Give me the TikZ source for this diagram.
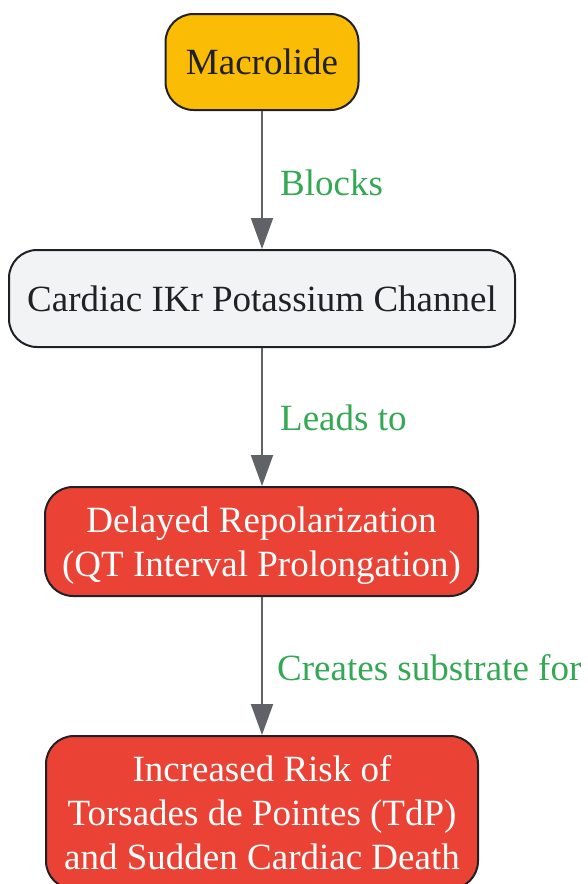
\documentclass[tikz,border=0pt]{standalone}
\usepackage{fontspec}
\setmainfont{Liberation Serif}
\usetikzlibrary{arrows.meta}
\definecolor{gold}{HTML}{FBBC05}
\definecolor{grayfill}{HTML}{F1F3F4}
\definecolor{redfill}{HTML}{EA4335}
\definecolor{edgegray}{HTML}{5F6368}
\definecolor{lblgreen}{HTML}{34A853}
\definecolor{inkdark}{HTML}{202124}
\tikzset{
  box/.style={draw=inkdark, line width=2pt, rounded corners=28pt, align=center,
    font=\fontsize{37}{44}\selectfont, inner sep=0pt},
  goldbox/.style={box, fill=gold, text=inkdark},
  graybox/.style={box, fill=grayfill, text=inkdark},
  redbox/.style={box, fill=redfill, text=white},
  conn/.style={draw=edgegray, line width=2pt, -{Triangle[length=31pt,width=22pt]}},
  lbl/.style={text=lblgreen, font=\fontsize{37}{44}\selectfont, inner sep=0pt, anchor=west}
}
\begin{document}
\begin{tikzpicture}[x=1pt,y=-1pt]
\useasboundingbox (0,0) rectangle (587,884);
\clip (0,0) rectangle (587,884);
\node[goldbox, minimum width=193pt, minimum height=96pt] (a) at (262,62) {Macrolide};
\node[graybox, minimum width=506pt, minimum height=97pt] (b) at (262,298.5) {Cardiac IKr Potassium Channel};
\node[redbox, minimum width=433pt, minimum height=109pt, text depth=0pt] (c) at (261.5,541.5) {Delayed Repolarization\\(QT Interval Prolongation)};
\node[redbox, minimum width=432pt, minimum height=153pt] (d) at (262,812.5) {Increased Risk of\\Torsades de Pointes (TdP)\\and Sudden Cardiac Death};
\draw[conn] (a.south) -- (b.north);
\draw[conn] (b.south) -- (c.north -| b.south);
\draw[conn] (c.south -| b.south) -- (d.north -| b.south);
\node[lbl] (l1) at (280,183) {Blocks};
\node[lbl] (l2) at (280,418) {Leads to};
\node[lbl] (l3) at (277,668) {Creates substrate for};
\end{tikzpicture}
\end{document}
